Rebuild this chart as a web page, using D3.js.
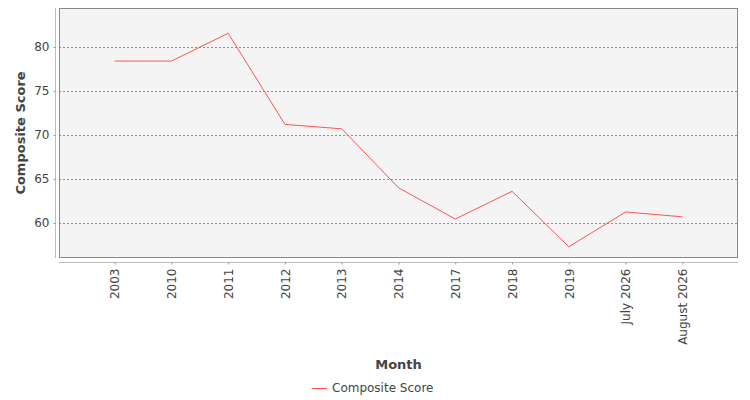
<!DOCTYPE html>
<html>
<head>
<meta charset="utf-8">
<title>Composite Score</title>
<script src="https://cdn.jsdelivr.net/npm/d3@7"></script>
<style>
    body { margin: 0; background: #fff; }
    text { font-family: "DejaVu Sans", sans-serif; fill: #444; }
</style>
</head>
<body>
<script>
var months = ["2003", "2010", "2011", "2012", "2013", "2014", "2017", "2018", "2019", "July 2026", "August 2026"];
var scores = [78.4, 78.4, 81.56, 71.2, 70.7, 64.0, 60.45, 63.6, 57.3, 61.25, 60.7];
var yTicks = [60, 65, 70, 75, 80];
var seriesName = "Composite Score";

var width = 750, height = 400;
// plot area (window.top is reserved, so prefixed names)
var plotLeft = 59, plotRight = 738, plotTop = 8, plotBottom = 258;

var svg = d3.select("body").append("svg")
    .attr("width", width)
    .attr("height", height);

var x = d3.scalePoint().domain(months).range([plotLeft, plotRight]).padding(0.98);
var y = d3.scaleLinear().domain([56.02, 84.43]).range([plotBottom, plotTop]);

// plot background
svg.append("rect")
    .attr("x", plotLeft).attr("y", plotTop)
    .attr("width", plotRight - plotLeft).attr("height", plotBottom - plotTop)
    .attr("fill", "#f4f4f4");

// grid lines
svg.append("g").selectAll("line").data(yTicks).join("line")
    .attr("x1", plotLeft).attr("x2", plotRight)
    .attr("y1", d => Math.round(y(d)) + 0.5).attr("y2", d => Math.round(y(d)) + 0.5)
    .attr("stroke", "#777").attr("stroke-width", 0.8)
    .attr("stroke-dasharray", "2,2");

// frame
svg.append("rect")
    .attr("x", plotLeft + 0.5).attr("y", plotTop + 0.5)
    .attr("width", plotRight - plotLeft - 1).attr("height", plotBottom - plotTop - 1)
    .attr("fill", "none").attr("stroke", "#888");

// y axis
var yAxis = d3.axisLeft(y).tickValues(yTicks).tickSize(2).tickPadding(4).tickFormat(d3.format("d"));
svg.append("g")
    .attr("transform", "translate(" + (plotLeft - 3.5) + ",0)")
    .call(yAxis)
    .call(g => g.select(".domain").attr("d", "M0," + plotTop + "V" + plotBottom).attr("stroke", "#bbb"))
    .call(g => g.selectAll(".tick line").attr("stroke", "#999"))
    .call(g => g.selectAll("text").attr("font-size", 12).attr("fill", "#444")
        .style("font-family", "DejaVu Sans"));

// x axis
var xAxis = d3.axisBottom(x).tickSize(2).tickPadding(4);
svg.append("g")
    .attr("transform", "translate(0," + (plotBottom + 4.5) + ")")
    .call(xAxis)
    .call(g => g.select(".domain").attr("d", "M" + plotLeft + ",0H" + plotRight).attr("stroke", "#bbb"))
    .call(g => g.selectAll(".tick line").attr("stroke", "#999"))
    .call(g => g.selectAll("text")
        .attr("font-size", 12).attr("fill", "#444")
        .style("font-family", "DejaVu Sans")
        .attr("text-anchor", "end")
        .attr("transform", "rotate(-90)")
        .attr("x", -6).attr("y", 0).attr("dy", "0.35em"));

// series line
svg.append("path")
    .datum(scores)
    .attr("fill", "none")
    .attr("stroke", "#ff5555")
    .attr("stroke-width", 1)
    .attr("d", d3.line().x((d, i) => x(months[i])).y(d => y(d)));

// axis titles
svg.append("text")
    .attr("x", (plotLeft + plotRight) / 2).attr("y", 369)
    .attr("text-anchor", "middle")
    .attr("font-size", 13).attr("font-weight", "bold")
    .text("Month");

svg.append("text")
    .attr("transform", "translate(25," + (plotTop + plotBottom) / 2 + ") rotate(-90)")
    .attr("text-anchor", "middle")
    .attr("font-size", 13).attr("font-weight", "bold")
    .text("Composite Score");

// legend
var legend = svg.append("g").attr("transform", "translate(312,388)");
legend.append("line")
    .attr("x1", 0).attr("x2", 15).attr("y1", 0.5).attr("y2", 0.5)
    .attr("stroke", "#ff5555");
legend.append("text")
    .attr("x", 20).attr("y", 0).attr("dy", "0.35em")
    .attr("font-size", 12)
    .text(seriesName);
</script>
</body>
</html>
